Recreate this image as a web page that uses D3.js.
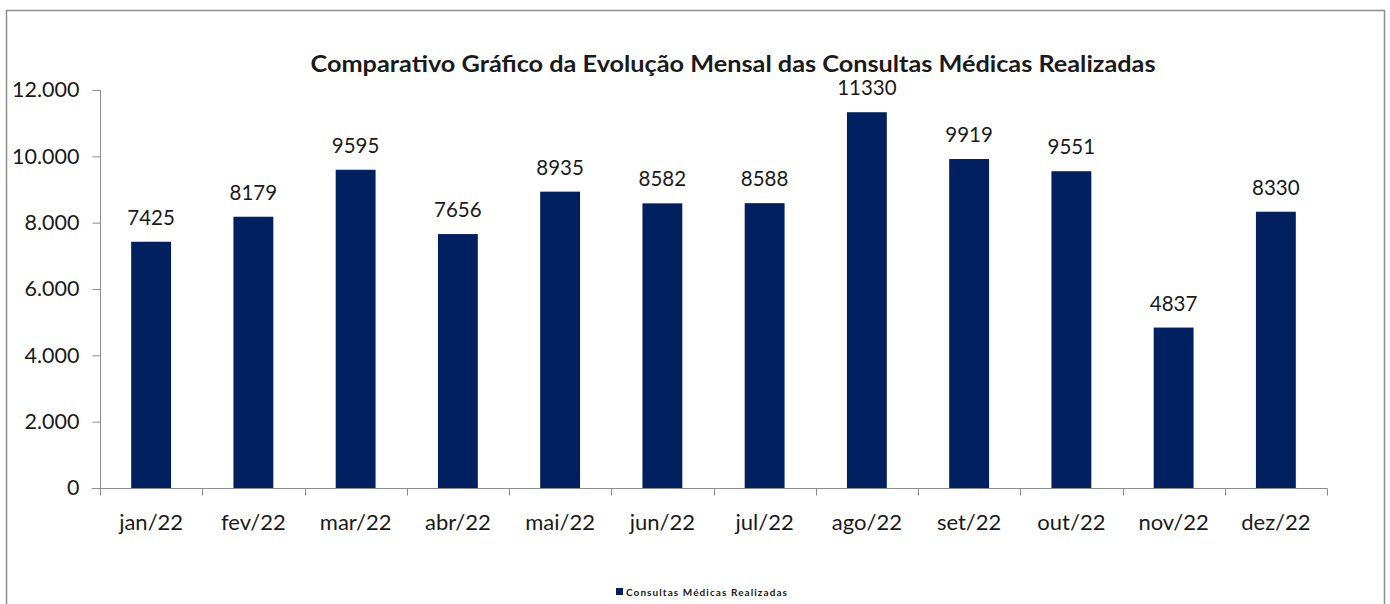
<!DOCTYPE html>
<html>
<head>
<meta charset="utf-8">
<script src="https://cdn.jsdelivr.net/npm/d3@7"></script>
<style>
  body { margin: 0; background: #fff; }
  svg text { font-family: Lato, "Open Sans", sans-serif; fill: #1a1a1a; }
</style>
</head>
<body>
<div id="chart"></div>
<script>
var months = ["jan/22", "fev/22", "mar/22", "abr/22", "mai/22", "jun/22", "jul/22", "ago/22", "set/22", "out/22", "nov/22", "dez/22"];
var consultas = [7425, 8179, 9595, 7656, 8935, 8582, 8588, 11330, 9919, 9551, 4837, 8330];
var yTicks = [0, 2000, 4000, 6000, 8000, 10000, 12000];
var seriesName = "Consultas Médicas Realizadas";
var chartTitle = "Comparativo Gráfico da Evolução Mensal das Consultas Médicas Realizadas";

var width = 1390, height = 604;
var barColor = "#002060";

var svg = d3.select("#chart").append("svg")
    .attr("width", width)
    .attr("height", height);

// outer frame
svg.append("rect")
    .attr("x", 6.5).attr("y", 10.5)
    .attr("width", 1378).attr("height", 620)
    .attr("fill", "none")
    .attr("stroke", "#8c8c8c")
    .attr("stroke-width", 1.5);

var plot = { left: 100, right: 1327, top: 90, bottom: 488 };

var x = d3.scaleBand()
    .domain(months)
    .range([plot.left, plot.right])
    .paddingInner(0.61)
    .paddingOuter(0.305);

var y = d3.scaleLinear()
    .domain([0, 12000])
    .range([plot.bottom, plot.top]);

var fmt = d3.formatLocale({ decimal: ",", thousands: ".", grouping: [3], currency: ["", ""] }).format(",d");

// y axis
var yAxis = svg.append("g")
    .attr("transform", "translate(" + (plot.left + 0.5) + ",0)")
    .call(d3.axisLeft(y).tickValues(yTicks).tickFormat(fmt).tickSize(8).tickPadding(13));
yAxis.select(".domain").attr("stroke", "#8c8c8c").attr("d", "M0," + plot.top + "V" + plot.bottom);
yAxis.selectAll(".tick line").attr("stroke", "#8c8c8c");
yAxis.selectAll("text").style("font-size", "21.5px").attr("fill", "#1a1a1a");

// bars
svg.selectAll(".bar")
    .data(consultas)
    .enter().append("rect")
    .attr("class", "bar")
    .attr("x", function (d, i) { return x(months[i]); })
    .attr("y", function (d) { return y(d); })
    .attr("width", x.bandwidth())
    .attr("height", function (d) { return y(0) - y(d); })
    .attr("fill", barColor);

// x axis
var step = x.step();
var xAxis = svg.append("g")
    .attr("transform", "translate(0," + (plot.bottom + 0.5) + ")");
xAxis.append("line")
    .attr("x1", plot.left - 8).attr("x2", plot.right)
    .attr("stroke", "#8c8c8c");
xAxis.selectAll(".xtick")
    .data(d3.range(months.length + 1))
    .enter().append("line")
    .attr("x1", function (i) { return Math.round(plot.left + i * step) + 0.5; })
    .attr("x2", function (i) { return Math.round(plot.left + i * step) + 0.5; })
    .attr("y1", 0).attr("y2", 7)
    .attr("stroke", "#8c8c8c");
xAxis.selectAll(".xlabel")
    .data(months)
    .enter().append("text")
    .attr("x", function (d) { return x(d) + x.bandwidth() / 2; })
    .attr("y", 41)
    .attr("text-anchor", "middle")
    .style("font-size", "22px")
    .text(function (d) { return d; });

// value labels
svg.selectAll(".val")
    .data(consultas)
    .enter().append("text")
    .attr("x", function (d, i) { return x(months[i]) + x.bandwidth() / 2; })
    .attr("y", function (d) { return y(d) - 17; })
    .attr("text-anchor", "middle")
    .style("font-size", "20.5px")
    .text(function (d) { return d; });

// title
svg.append("text")
    .attr("x", 733)
    .attr("y", 72)
    .attr("text-anchor", "middle")
    .attr("textLength", 845)
    .attr("lengthAdjust", "spacingAndGlyphs")
    .style("font-size", "23.5px")
    .style("font-weight", "bold")
    .attr("fill", "#000")
    .text(chartTitle);

// legend
svg.append("rect")
    .attr("x", 616).attr("y", 588)
    .attr("width", 7).attr("height", 7)
    .attr("fill", barColor);
svg.append("text")
    .attr("x", 626).attr("y", 595.5)
    .attr("textLength", 161)
    .attr("lengthAdjust", "spacing")
    .style("font-size", "10px")
    .style("font-weight", "bold")
    .text(seriesName);
</script>
</body>
</html>
